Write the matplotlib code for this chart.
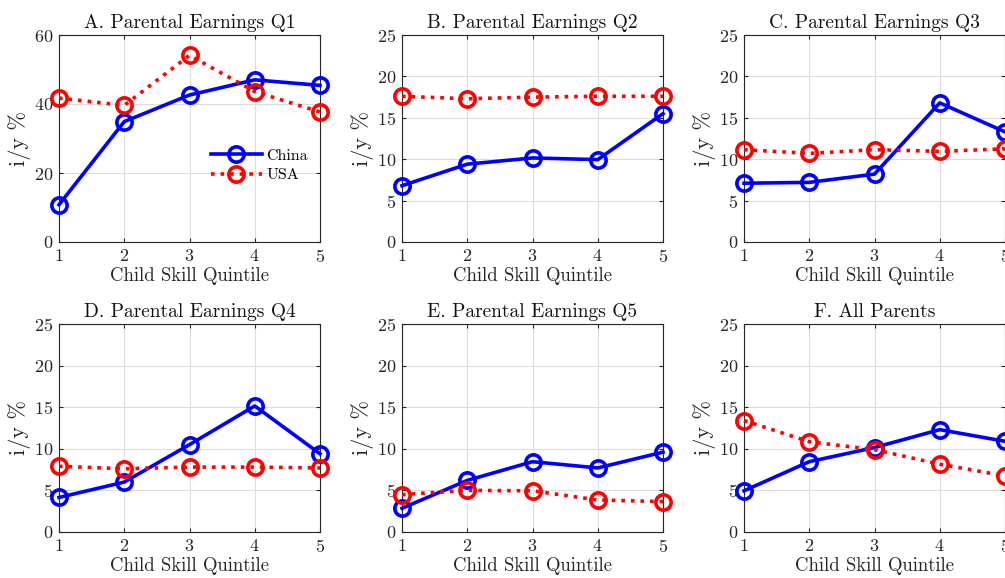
import numpy as np
import matplotlib
matplotlib.use("Agg")
import matplotlib.pyplot as plt

plt.rcParams['font.family'] = ['cmr10', 'DejaVu Serif']
plt.rcParams['axes.formatter.use_mathtext'] = True
plt.rcParams['mathtext.fontset'] = 'cm'

quintiles = [1, 2, 3, 4, 5]

titles = ["A. Parental Earnings Q1", "B. Parental Earnings Q2",
          "C. Parental Earnings Q3", "D. Parental Earnings Q4",
          "E. Parental Earnings Q5", "F. All Parents"]

china = [
    [10.8, 34.9, 42.6, 47.0, 45.4],
    [6.8, 9.4, 10.15, 9.95, 15.5],
    [7.1, 7.2, 8.2, 16.8, 13.3],
    [4.15, 6.0, 10.5, 15.15, 9.4],
    [2.85, 6.2, 8.45, 7.7, 9.6],
    [4.95, 8.45, 10.15, 12.3, 10.9],
]
usa = [
    [41.7, 39.6, 54.1, 43.6, 37.7],
    [17.6, 17.3, 17.5, 17.6, 17.6],
    [11.15, 10.7, 11.15, 10.95, 11.25],
    [7.9, 7.6, 7.8, 7.8, 7.7],
    [4.5, 5.0, 4.95, 3.85, 3.65],
    [13.4, 10.85, 9.9, 8.15, 6.75],
]
ylims = [60, 25, 25, 25, 25, 25]

W, H = 1005, 578
fig = plt.figure(figsize=(W / 100, H / 100), dpi=100)

lefts = [59, 402, 744]
boxes = []
for r, (top, bot) in enumerate([(35, 242), (324, 532)]):
    for c in range(3):
        boxes.append([lefts[c] / W, (H - bot) / H, 261 / W, (bot - top) / H])

for i in range(6):
    ax = fig.add_axes(boxes[i])
    ax.plot(quintiles, china[i], color='#0000ff', lw=2.6, marker='o', ms=11,
            mfc='none', mew=2.6, label='China', clip_on=False, zorder=3)
    ax.plot(quintiles, usa[i], color='#ff0000', lw=2.6, ls=':', marker='o', ms=11,
            mfc='none', mew=2.6, label='USA', clip_on=False, zorder=3)
    ax.set_xlim(1, 5)
    ax.set_ylim(0, ylims[i])
    ax.set_xticks(quintiles)
    if ylims[i] == 60:
        ax.set_yticks([0, 20, 40, 60])
    else:
        ax.set_yticks([0, 5, 10, 15, 20, 25])
    ax.grid(True, color='#dddddd', lw=0.8)
    ax.set_axisbelow(True)
    for s in ax.spines.values():
        s.set_color('#262626')
        s.set_linewidth(0.8)
    ax.tick_params(direction='in', length=3, labelsize=13, colors='#262626',
                   top=True, right=True, pad=4)
    ax.set_title(titles[i], fontsize=14, color='#111111', pad=5)
    ax.set_xlabel('Child Skill Quintile', fontsize=13.5, color='#262626', labelpad=2)
    ax.set_ylabel('i/y %', fontsize=16, color='#262626', labelpad=2)
    if i == 0:
        ax.legend(loc='center left', bbox_to_anchor=(0.55, 0.37), frameon=False,
                  fontsize=11.5, handlelength=3.2, handletextpad=0.3,
                  labelspacing=0.35, borderpad=0)

fig.savefig('out.png', dpi=100)
